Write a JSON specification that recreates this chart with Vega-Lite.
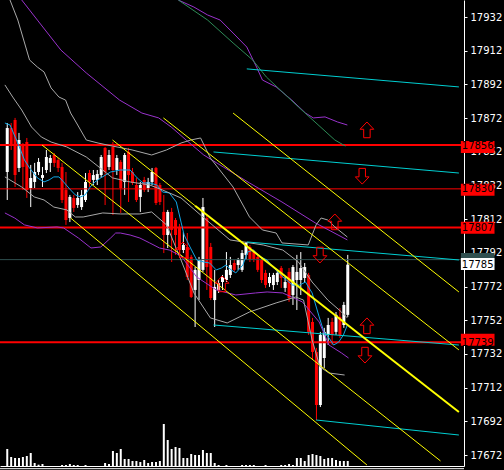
{
  "$schema": "https://vega.github.io/schema/vega-lite/v6.json",
  "width": 464,
  "height": 466,
  "autosize": "none",
  "padding": {"left": 0, "top": 0, "right": 40, "bottom": 4},
  "background": "#000000",
  "config": {"view": {"stroke": null}},
  "datasets": {
    "candles": [
      {"i":0,"o":17840.0,"c":17866.1,"h":17869.1,"l":17823.4},
      {"i":1,"o":17866.1,"c":17856.0,"h":17869.1,"l":17853.1},
      {"i":2,"o":17870.9,"c":17838.2,"h":17872.1,"l":17831.1},
      {"i":3,"o":17842.4,"c":17859.0,"h":17863.2,"l":17840.0},
      {"i":4,"o":17856.0,"c":17843.0,"h":17857.2,"l":17829.3},
      {"i":5,"o":17857.8,"c":17829.3,"h":17860.2,"l":17824.6},
      {"i":6,"o":17830.5,"c":17836.5,"h":17844.2,"l":17819.2},
      {"i":7,"o":17834.1,"c":17840.0,"h":17845.4,"l":17830.5},
      {"i":8,"o":17840.0,"c":17846.0,"h":17848.3,"l":17838.2},
      {"i":9,"o":17836.5,"c":17838.2,"h":17843.0,"l":17831.1},
      {"i":10,"o":17841.2,"c":17848.9,"h":17853.1,"l":17839.4},
      {"i":11,"o":17845.4,"c":17848.3,"h":17850.1,"l":17840.0},
      {"i":12,"o":17850.1,"c":17845.4,"h":17851.3,"l":17843.0},
      {"i":13,"o":17847.1,"c":17842.4,"h":17848.3,"l":17840.0},
      {"i":14,"o":17843.0,"c":17823.4,"h":17845.4,"l":17821.6},
      {"i":15,"o":17829.3,"c":17811.5,"h":17840.0,"l":17808.6},
      {"i":16,"o":17812.7,"c":17825.2,"h":17826.4,"l":17810.3},
      {"i":17,"o":17824.6,"c":17818.7,"h":17826.4,"l":17816.3},
      {"i":18,"o":17820.4,"c":17824.6,"h":17828.1,"l":17818.7},
      {"i":19,"o":17819.2,"c":17826.4,"h":17829.3,"l":17817.5},
      {"i":20,"o":17823.4,"c":17834.1,"h":17839.4,"l":17822.2},
      {"i":21,"o":17839.4,"c":17834.1,"h":17841.2,"l":17831.1},
      {"i":22,"o":17835.3,"c":17838.2,"h":17841.2,"l":17832.3},
      {"i":23,"o":17835.3,"c":17838.8,"h":17841.2,"l":17832.3},
      {"i":24,"o":17838.2,"c":17848.9,"h":17850.1,"l":17836.5},
      {"i":25,"o":17854.3,"c":17840.0,"h":17854.9,"l":17820.4},
      {"i":26,"o":17843.0,"c":17850.1,"h":17853.1,"l":17841.2},
      {"i":27,"o":17854.9,"c":17841.2,"h":17857.8,"l":17814.5},
      {"i":28,"o":17841.2,"c":17848.3,"h":17850.1,"l":17838.2},
      {"i":29,"o":17846.0,"c":17830.5,"h":17847.1,"l":17815.7},
      {"i":30,"o":17834.1,"c":17850.1,"h":17851.3,"l":17826.4},
      {"i":31,"o":17851.9,"c":17838.2,"h":17854.3,"l":17822.2},
      {"i":32,"o":17840.0,"c":17833.5,"h":17842.4,"l":17832.3},
      {"i":33,"o":17832.3,"c":17823.4,"h":17836.5,"l":17822.2},
      {"i":34,"o":17825.2,"c":17832.3,"h":17834.1,"l":17816.3},
      {"i":35,"o":17835.3,"c":17829.3,"h":17837.1,"l":17828.1},
      {"i":36,"o":17830.5,"c":17834.1,"h":17836.5,"l":17828.1},
      {"i":37,"o":17834.1,"c":17840.0,"h":17842.4,"l":17832.3},
      {"i":38,"o":17842.4,"c":17821.6,"h":17843.0,"l":17820.4},
      {"i":39,"o":17832.3,"c":17822.2,"h":17833.5,"l":17820.4},
      {"i":40,"o":17816.3,"c":17802.6,"h":17826.4,"l":17791.9},
      {"i":41,"o":17802.6,"c":17816.3,"h":17817.5,"l":17794.9},
      {"i":42,"o":17816.3,"c":17805.6,"h":17818.7,"l":17786.6},
      {"i":43,"o":17811.5,"c":17802.6,"h":17812.7,"l":17790.8},
      {"i":44,"o":17807.4,"c":17793.7,"h":17809.2,"l":17789.0},
      {"i":45,"o":17793.7,"c":17796.7,"h":17804.4,"l":17791.9},
      {"i":46,"o":17795.5,"c":17777.7,"h":17803.8,"l":17775.9},
      {"i":47,"o":17789.6,"c":17765.8,"h":17790.8,"l":17765.2},
      {"i":48,"o":17770.0,"c":17781.9,"h":17783.6,"l":17748.0},
      {"i":49,"o":17775.9,"c":17787.8,"h":17789.6,"l":17764.0},
      {"i":50,"o":17781.9,"c":17819.2,"h":17824.6,"l":17780.7},
      {"i":51,"o":17812.7,"c":17783.6,"h":17814.5,"l":17770.0},
      {"i":52,"o":17795.5,"c":17765.2,"h":17797.9,"l":17764.0},
      {"i":53,"o":17764.0,"c":17771.8,"h":17781.9,"l":17748.0},
      {"i":54,"o":17770.0,"c":17774.1,"h":17775.9,"l":17768.2},
      {"i":55,"o":17774.7,"c":17777.7,"h":17778.9,"l":17770.0},
      {"i":56,"o":17775.9,"c":17781.9,"h":17792.5,"l":17774.7},
      {"i":57,"o":17778.9,"c":17784.8,"h":17789.6,"l":17777.1},
      {"i":58,"o":17786.0,"c":17781.9,"h":17787.8,"l":17780.7},
      {"i":59,"o":17784.8,"c":17787.8,"h":17789.0,"l":17781.9},
      {"i":60,"o":17781.9,"c":17791.9,"h":17793.7,"l":17780.7},
      {"i":61,"o":17790.8,"c":17797.9,"h":17798.5,"l":17787.8},
      {"i":62,"o":17795.5,"c":17787.8,"h":17796.7,"l":17786.6},
      {"i":63,"o":17792.5,"c":17787.8,"h":17793.7,"l":17786.6},
      {"i":64,"o":17789.6,"c":17781.9,"h":17790.8,"l":17780.7},
      {"i":65,"o":17787.8,"c":17775.9,"h":17789.0,"l":17774.1},
      {"i":66,"o":17780.1,"c":17772.9,"h":17781.9,"l":17771.2},
      {"i":67,"o":17774.1,"c":17777.7,"h":17780.1,"l":17771.8},
      {"i":68,"o":17772.9,"c":17778.9,"h":17780.1,"l":17770.0},
      {"i":69,"o":17774.7,"c":17780.1,"h":17781.9,"l":17772.9},
      {"i":70,"o":17783.0,"c":17777.1,"h":17784.2,"l":17771.2},
      {"i":71,"o":17771.2,"c":17774.7,"h":17777.7,"l":17768.8},
      {"i":72,"o":17780.7,"c":17765.2,"h":17783.0,"l":17762.9},
      {"i":73,"o":17767.0,"c":17783.6,"h":17784.8,"l":17761.1},
      {"i":74,"o":17775.9,"c":17780.7,"h":17790.8,"l":17758.1},
      {"i":75,"o":17775.9,"c":17783.0,"h":17792.5,"l":17767.0},
      {"i":76,"o":17777.1,"c":17783.6,"h":17786.0,"l":17774.7},
      {"i":77,"o":17778.9,"c":17745.1,"h":17780.1,"l":17743.3},
      {"i":78,"o":17751.0,"c":17733.2,"h":17753.4,"l":17728.4},
      {"i":79,"o":17733.2,"c":17701.7,"h":17735.6,"l":17692.8},
      {"i":80,"o":17701.7,"c":17743.3,"h":17745.1,"l":17700.5},
      {"i":81,"o":17729.6,"c":17745.1,"h":17747.5,"l":17723.7},
      {"i":82,"o":17743.3,"c":17749.2,"h":17753.4,"l":17737.3},
      {"i":83,"o":17751.0,"c":17743.3,"h":17753.4,"l":17737.3},
      {"i":84,"o":17745.1,"c":17755.2,"h":17756.9,"l":17743.3},
      {"i":85,"o":17754.0,"c":17743.3,"h":17759.3,"l":17741.5},
      {"i":86,"o":17749.2,"c":17761.1,"h":17762.9,"l":17747.5},
      {"i":87,"o":17755.2,"c":17785.0,"h":17790.8,"l":17754.0}
    ],
    "volume": [
      {"i":0,"v":17},{"i":1,"v":9},{"i":2,"v":8},{"i":3,"v":8},{"i":4,"v":9},{"i":5,"v":10},{"i":6,"v":13},{"i":7,"v":3},{"i":8,"v":1.3},{"i":9,"v":2},
      {"i":14,"v":1},{"i":15,"v":1},{"i":16,"v":2},{"i":17,"v":1},{"i":18,"v":1},{"i":20,"v":1},
      {"i":25,"v":3},{"i":26,"v":2},{"i":27,"v":15},{"i":28,"v":13},{"i":29,"v":17},{"i":30,"v":7},{"i":31,"v":7},{"i":32,"v":5},{"i":33,"v":5},{"i":34,"v":4},{"i":35,"v":6},{"i":36,"v":3},{"i":37,"v":4},{"i":38,"v":4},{"i":39,"v":5},
      {"i":40,"v":42},{"i":41,"v":26},{"i":42,"v":17},{"i":43,"v":19},{"i":44,"v":18},
      {"i":45,"v":8},{"i":46,"v":8},{"i":47,"v":12},{"i":48,"v":11},{"i":49,"v":11},{"i":50,"v":16},{"i":51,"v":13},{"i":52,"v":13},{"i":53,"v":3},{"i":54,"v":1},
      {"i":56,"v":1},{"i":60,"v":1},{"i":61,"v":1},{"i":62,"v":1},{"i":63,"v":1},{"i":66,"v":1},{"i":70,"v":1},{"i":71,"v":1},{"i":72,"v":2},{"i":73,"v":1},
      {"i":74,"v":8},{"i":75,"v":8},{"i":76,"v":5},{"i":77,"v":11},{"i":78,"v":12},{"i":79,"v":11},{"i":80,"v":10},{"i":81,"v":7},{"i":82,"v":8},{"i":83,"v":8},{"i":84,"v":6},{"i":85,"v":5},{"i":86,"v":5},{"i":87,"v":5}
    ],
    "lines": [
      {"s":"ma","k":"ma","t":-0.6,"p":17869.1},{"s":"ma","k":"ma","t":0.7,"p":17867.9},{"s":"ma","k":"ma","t":2.7,"p":17857.2},{"s":"ma","k":"ma","t":4.4,"p":17847.1},{"s":"ma","k":"ma","t":5.7,"p":17842.4},{"s":"ma","k":"ma","t":7.7,"p":17836.5},{"s":"ma","k":"ma","t":9.4,"p":17834.1},{"s":"ma","k":"ma","t":10.7,"p":17835.3},{"s":"ma","k":"ma","t":11.9,"p":17837.1},{"s":"ma","k":"ma","t":13.2,"p":17837.1},{"s":"ma","k":"ma","t":14.4,"p":17834.1},{"s":"ma","k":"ma","t":16.2,"p":17829.3},{"s":"ma","k":"ma","t":17.4,"p":17826.4},{"s":"ma","k":"ma","t":18.7,"p":17825.2},{"s":"ma","k":"ma","t":19.9,"p":17826.4},{"s":"ma","k":"ma","t":21.2,"p":17831.1},{"s":"ma","k":"ma","t":22.4,"p":17834.1},{"s":"ma","k":"ma","t":23.9,"p":17836.5},{"s":"ma","k":"ma","t":26.4,"p":17840.0},{"s":"ma","k":"ma","t":28.9,"p":17841.2},{"s":"ma","k":"ma","t":31.4,"p":17841.2},{"s":"ma","k":"ma","t":33.2,"p":17836.5},{"s":"ma","k":"ma","t":34.7,"p":17833.5},{"s":"ma","k":"ma","t":36.4,"p":17833.5},{"s":"ma","k":"ma","t":38.2,"p":17832.3},{"s":"ma","k":"ma","t":39.7,"p":17828.1},{"s":"ma","k":"ma","t":41.4,"p":17827.6},{"s":"ma","k":"ma","t":43.2,"p":17822.2},{"s":"ma","k":"ma","t":44.4,"p":17810.3},{"s":"ma","k":"ma","t":45.2,"p":17802.6},{"s":"ma","k":"ma","t":46.7,"p":17795.5},{"s":"ma","k":"ma","t":48.4,"p":17787.8},{"s":"ma","k":"ma","t":50.2,"p":17786.6},{"s":"ma","k":"ma","t":51.7,"p":17786.0},{"s":"ma","k":"ma","t":53.4,"p":17781.9},{"s":"ma","k":"ma","t":54.7,"p":17783.0},{"s":"ma","k":"ma","t":55.9,"p":17784.8},{"s":"ma","k":"ma","t":57.2,"p":17781.9},{"s":"ma","k":"ma","t":58.4,"p":17780.1},{"s":"ma","k":"ma","t":60.2,"p":17784.8},{"s":"ma","k":"ma","t":61.4,"p":17792.5},{"s":"ma","k":"ma","t":62.9,"p":17793.7},{"s":"ma","k":"ma","t":64.7,"p":17789.6},{"s":"ma","k":"ma","t":66.4,"p":17787.8},{"s":"ma","k":"ma","t":67.9,"p":17783.6},{"s":"ma","k":"ma","t":70.4,"p":17777.7},{"s":"ma","k":"ma","t":72.9,"p":17772.9},{"s":"ma","k":"ma","t":74.7,"p":17772.9},{"s":"ma","k":"ma","t":76.2,"p":17774.7},{"s":"ma","k":"ma","t":77.9,"p":17768.2},{"s":"ma","k":"ma","t":79.7,"p":17754.0},{"s":"ma","k":"ma","t":80.9,"p":17745.1},{"s":"ma","k":"ma","t":82.2,"p":17741.5},{"s":"ma","k":"ma","t":83.4,"p":17737.3},{"s":"ma","k":"ma","t":84.7,"p":17739.1},{"s":"ma","k":"ma","t":85.9,"p":17743.3},{"s":"ma","k":"ma","t":86.9,"p":17749.2},

      {"s":"p1","k":"purple","t":3.7,"p":17942.1},{"s":"p1","k":"purple","t":7.7,"p":17930.2},{"s":"p1","k":"purple","t":13.7,"p":17912.4},{"s":"p1","k":"purple","t":20.2,"p":17898.8},{"s":"p1","k":"purple","t":28.7,"p":17882.7},{"s":"p1","k":"purple","t":34.4,"p":17875.0},{"s":"p1","k":"purple","t":38.7,"p":17872.1},{"s":"p1","k":"purple","t":41.9,"p":17866.7},{"s":"p1","k":"purple","t":45.7,"p":17859.0},{"s":"p1","k":"purple","t":50.2,"p":17850.1},{"s":"p1","k":"purple","t":55.2,"p":17843.0},{"s":"p1","k":"purple","t":61.9,"p":17833.5},{"s":"p1","k":"purple","t":70.2,"p":17822.2},{"s":"p1","k":"purple","t":78.7,"p":17809.8},{"s":"p1","k":"purple","t":86.9,"p":17799.7},

      {"s":"p2","k":"purple","t":-0.6,"p":17815.7},{"s":"p2","k":"purple","t":1.9,"p":17812.7},{"s":"p2","k":"purple","t":4.4,"p":17808.6},{"s":"p2","k":"purple","t":7.7,"p":17806.8},{"s":"p2","k":"purple","t":12.7,"p":17807.4},{"s":"p2","k":"purple","t":14.4,"p":17806.8},{"s":"p2","k":"purple","t":18.2,"p":17800.8},{"s":"p2","k":"purple","t":21.4,"p":17794.9},{"s":"p2","k":"purple","t":23.9,"p":17795.5},{"s":"p2","k":"purple","t":26.4,"p":17800.8},{"s":"p2","k":"purple","t":27.7,"p":17803.8},{"s":"p2","k":"purple","t":28.9,"p":17803.8},{"s":"p2","k":"purple","t":31.4,"p":17802.6},{"s":"p2","k":"purple","t":33.9,"p":17800.8},{"s":"p2","k":"purple","t":36.4,"p":17797.9},{"s":"p2","k":"purple","t":38.9,"p":17794.9},{"s":"p2","k":"purple","t":41.4,"p":17793.7},{"s":"p2","k":"purple","t":44.4,"p":17790.2},{"s":"p2","k":"purple","t":48.4,"p":17777.7},{"s":"p2","k":"purple","t":53.4,"p":17770.0},{"s":"p2","k":"purple","t":58.4,"p":17767.0},{"s":"p2","k":"purple","t":63.4,"p":17768.2},{"s":"p2","k":"purple","t":66.4,"p":17768.8},{"s":"p2","k":"purple","t":70.4,"p":17768.2},{"s":"p2","k":"purple","t":75.4,"p":17762.9},{"s":"p2","k":"purple","t":79.7,"p":17751.0},{"s":"p2","k":"purple","t":82.2,"p":17737.3},{"s":"p2","k":"purple","t":85.4,"p":17732.6},{"s":"p2","k":"purple","t":87.2,"p":17729.6},

      {"s":"p3","k":"purple","t":43.7,"p":17942.1},{"s":"p3","k":"purple","t":47.7,"p":17937.9},{"s":"p3","k":"purple","t":51.2,"p":17933.2},{"s":"p3","k":"purple","t":54.4,"p":17930.2},{"s":"p3","k":"purple","t":57.7,"p":17922.5},{"s":"p3","k":"purple","t":61.2,"p":17914.2},{"s":"p3","k":"purple","t":63.7,"p":17902.3},{"s":"p3","k":"purple","t":65.2,"p":17894.6},{"s":"p3","k":"purple","t":68.7,"p":17890.5},{"s":"p3","k":"purple","t":72.7,"p":17882.7},{"s":"p3","k":"purple","t":76.2,"p":17875.0},{"s":"p3","k":"purple","t":78.2,"p":17872.1},{"s":"p3","k":"purple","t":81.2,"p":17872.7},{"s":"p3","k":"purple","t":84.4,"p":17869.7},{"s":"p3","k":"purple","t":86.9,"p":17867.9},

      {"s":"gr","k":"green","t":43.7,"p":17942.1},{"s":"gr","k":"green","t":51.2,"p":17930.2},{"s":"gr","k":"green","t":57.7,"p":17916.6},{"s":"gr","k":"green","t":62.7,"p":17906.5},{"s":"gr","k":"green","t":66.2,"p":17896.4},{"s":"gr","k":"green","t":74.4,"p":17878.6},{"s":"gr","k":"green","t":83.7,"p":17859.0},{"s":"gr","k":"green","t":86.4,"p":17855.4},

      {"s":"g1","k":"gray","t":0.7,"p":17942.1},{"s":"g1","k":"gray","t":2.7,"p":17930.2},{"s":"g1","k":"gray","t":5.7,"p":17906.5},{"s":"g1","k":"gray","t":7.7,"p":17902.3},{"s":"g1","k":"gray","t":9.4,"p":17899.4},{"s":"g1","k":"gray","t":11.2,"p":17889.9},{"s":"g1","k":"gray","t":13.2,"p":17884.5},{"s":"g1","k":"gray","t":14.9,"p":17882.7},{"s":"g1","k":"gray","t":16.2,"p":17875.0},{"s":"g1","k":"gray","t":17.7,"p":17869.1},{"s":"g1","k":"gray","t":20.2,"p":17859.0},{"s":"g1","k":"gray","t":23.2,"p":17857.2},{"s":"g1","k":"gray","t":26.9,"p":17855.4},{"s":"g1","k":"gray","t":31.9,"p":17853.1},{"s":"g1","k":"gray","t":36.9,"p":17850.1},{"s":"g1","k":"gray","t":40.7,"p":17853.1},{"s":"g1","k":"gray","t":44.4,"p":17857.2},{"s":"g1","k":"gray","t":46.9,"p":17859.0},{"s":"g1","k":"gray","t":49.4,"p":17860.2},{"s":"g1","k":"gray","t":51.9,"p":17848.3},{"s":"g1","k":"gray","t":57.7,"p":17831.1},{"s":"g1","k":"gray","t":61.9,"p":17813.3},{"s":"g1","k":"gray","t":65.2,"p":17805.6},{"s":"g1","k":"gray","t":68.7,"p":17803.8},{"s":"g1","k":"gray","t":70.2,"p":17797.9},{"s":"g1","k":"gray","t":76.9,"p":17796.7},{"s":"g1","k":"gray","t":78.9,"p":17808.6},{"s":"g1","k":"gray","t":80.2,"p":17812.7},{"s":"g1","k":"gray","t":81.9,"p":17811.5},{"s":"g1","k":"gray","t":83.7,"p":17807.4},{"s":"g1","k":"gray","t":86.9,"p":17801.4},

      {"s":"g2","k":"gray","t":-0.6,"p":17891.7},{"s":"g2","k":"gray","t":1.4,"p":17884.5},{"s":"g2","k":"gray","t":3.7,"p":17876.8},{"s":"g2","k":"gray","t":6.2,"p":17866.7},{"s":"g2","k":"gray","t":8.7,"p":17860.8},{"s":"g2","k":"gray","t":11.2,"p":17857.8},{"s":"g2","k":"gray","t":15.2,"p":17854.9},{"s":"g2","k":"gray","t":20.2,"p":17848.9},{"s":"g2","k":"gray","t":24.4,"p":17841.2},{"s":"g2","k":"gray","t":26.9,"p":17836.5},{"s":"g2","k":"gray","t":31.4,"p":17834.1},{"s":"g2","k":"gray","t":36.4,"p":17832.3},{"s":"g2","k":"gray","t":39.7,"p":17829.3},{"s":"g2","k":"gray","t":44.4,"p":17824.6},{"s":"g2","k":"gray","t":49.4,"p":17814.5},{"s":"g2","k":"gray","t":56.9,"p":17799.7},{"s":"g2","k":"gray","t":65.4,"p":17796.7},{"s":"g2","k":"gray","t":70.4,"p":17793.7},{"s":"g2","k":"gray","t":74.4,"p":17786.6},{"s":"g2","k":"gray","t":77.9,"p":17774.7},{"s":"g2","k":"gray","t":81.9,"p":17764.0},{"s":"g2","k":"gray","t":85.4,"p":17756.9},{"s":"g2","k":"gray","t":86.9,"p":17753.4},

      {"s":"g3","k":"gray","t":-0.6,"p":17837.1},{"s":"g3","k":"gray","t":3.7,"p":17831.1},{"s":"g3","k":"gray","t":6.9,"p":17825.2},{"s":"g3","k":"gray","t":9.4,"p":17823.4},{"s":"g3","k":"gray","t":11.9,"p":17819.2},{"s":"g3","k":"gray","t":15.2,"p":17817.5},{"s":"g3","k":"gray","t":17.4,"p":17813.3},{"s":"g3","k":"gray","t":19.4,"p":17813.3},{"s":"g3","k":"gray","t":24.4,"p":17815.7},{"s":"g3","k":"gray","t":28.9,"p":17815.1},{"s":"g3","k":"gray","t":33.9,"p":17815.1},{"s":"g3","k":"gray","t":36.9,"p":17816.3},{"s":"g3","k":"gray","t":40.7,"p":17808.6},{"s":"g3","k":"gray","t":44.4,"p":17787.8},{"s":"g3","k":"gray","t":47.7,"p":17768.2},{"s":"g3","k":"gray","t":51.9,"p":17753.4},{"s":"g3","k":"gray","t":56.2,"p":17750.4},{"s":"g3","k":"gray","t":61.9,"p":17756.9},{"s":"g3","k":"gray","t":68.7,"p":17762.3},{"s":"g3","k":"gray","t":73.7,"p":17765.8},{"s":"g3","k":"gray","t":75.7,"p":17764.0},{"s":"g3","k":"gray","t":77.9,"p":17740.3},{"s":"g3","k":"gray","t":79.9,"p":17724.3},{"s":"g3","k":"gray","t":82.2,"p":17720.7},{"s":"g3","k":"gray","t":86.2,"p":17719.5},

      {"s":"c1","k":"cyan","t":61.2,"p":17901.2},{"s":"c1","k":"cyan","t":115.4,"p":17890.5},
      {"s":"c2","k":"cyan","t":52.7,"p":17851.9},{"s":"c2","k":"cyan","t":115.4,"p":17839.4},
      {"s":"c3","k":"cyan","t":61.2,"p":17798.5},{"s":"c3","k":"cyan","t":115.4,"p":17787.8},
      {"s":"c4","k":"cyan","t":52.7,"p":17749.2},{"s":"c4","k":"cyan","t":115.4,"p":17737.3},
      {"s":"c5","k":"cyan","t":78.9,"p":17692.8},{"s":"c5","k":"cyan","t":115.4,"p":17683.9},

      {"s":"ya","k":"yellow","t":8.9,"p":17856.0},{"s":"ya","k":"yellow","t":110.7,"p":17668.5},
      {"s":"yb","k":"yellow","t":26.9,"p":17859.0},{"s":"yb","k":"yellow","t":48.0,"p":17820.0},
      {"s":"yc","k":"yellow","t":16.2,"p":17812.7},{"s":"yc","k":"yellow","t":91.9,"p":17666.1},
      {"s":"ye","k":"yellow","t":39.9,"p":17872.1},{"s":"ye","k":"yellow","t":115.4,"p":17734.4},
      {"s":"yf","k":"yellow","t":57.7,"p":17875.0},{"s":"yf","k":"yellow","t":115.4,"p":17768.8}
    ],
    "thick": [
      {"t":48.0,"p":17820.0},{"t":115.4,"p":17697.6}
    ],
    "levels": [
      {"p":17856,"w":"main"},{"p":17830,"w":"thin"},{"p":17807,"w":"main"},{"p":17739,"w":"main"}
    ],
    "arrows": [
      {"t":91.9,"p":17864.9,"dir":"up"},{"t":83.7,"p":17810.3,"dir":"up"},{"t":91.9,"p":17748.6,"dir":"up"},
      {"t":90.7,"p":17837.6,"dir":"down"},{"t":79.9,"p":17790.8,"dir":"down"},{"t":91.4,"p":17731.4,"dir":"down"},
      {"t":54.9,"p":17773.5,"dir":"up"},{"t":44.9,"p":17793.7,"dir":"up"}
    ],
    "boxes": [
      {"p":17856,"label":"17856","kind":"level"},
      {"p":17830,"label":"17830","kind":"level"},
      {"p":17807,"label":"17807","kind":"level"},
      {"p":17739,"label":"17739","kind":"level"},
      {"p":17788,"label":"17788","kind":"line"},
      {"p":17785,"label":"17785","kind":"bid"}
    ]
  },
  "layer": [
    {
      "data": {"name": "volume"},
      "mark": {"type": "bar", "size": 2, "color": "#FFFFFF"},
      "encoding": {
        "x": {"field": "i", "type": "quantitative", "scale": {"domain": [-0.575, 115.425], "nice": false, "zero": false}, "axis": {"title": null, "labels": false, "ticks": false, "grid": false, "domainColor": "#FFFFFF", "domainWidth": 1}},
        "y": {"field": "v", "type": "quantitative", "scale": {"domain": [0, 466], "nice": false}, "axis": null}
      }
    },
    {
      "data": {"values": [{"v": -2.7}]},
      "mark": {"type": "rule", "color": "#FFFFFF", "strokeWidth": 1},
      "encoding": {
        "y": {"field": "v", "type": "quantitative", "scale": {"domain": [0, 466], "nice": false, "zero": false}, "axis": null}
      }
    },
    {
      "data": {"name": "candles"},
      "mark": {"type": "rule", "strokeWidth": 1},
      "encoding": {
        "x": {"field": "i", "type": "quantitative"},
        "y": {"field": "l", "type": "quantitative", "scale": {"domain": [17665.5, 17942.1], "nice": false, "zero": false},
          "axis": {"orient": "right", "title": null, "grid": false, "zindex": 0, "values": [17672,17692,17712,17732,17752,17772,17792,17812,17832,17852,17872,17892,17912,17932],
            "format": "d", "labelColor": "#FFFFFF", "tickColor": "#FFFFFF", "domainColor": "#FFFFFF", "tickSize": 3, "labelPadding": 3, "labelFont": "DejaVu Sans", "labelFontSize": 10}},
        "y2": {"field": "h"},
        "color": {"condition": {"test": "datum.c >= datum.o", "value": "#FFFFFF"}, "value": "#FF0000"}
      }
    },
    {
      "data": {"name": "candles"},
      "mark": {"type": "bar", "size": 3},
      "encoding": {
        "x": {"field": "i", "type": "quantitative"},
        "y": {"field": "o", "type": "quantitative", "scale": {"domain": [17665.5, 17942.1], "nice": false, "zero": false}, "axis": null},
        "y2": {"field": "c"},
        "color": {"condition": {"test": "datum.c >= datum.o", "value": "#FFFFFF"}, "value": "#FF0000"}
      }
    },
    {
      "data": {"name": "levels"},
      "mark": {"type": "rule", "color": "#FF0000"},
      "encoding": {
        "y": {"field": "p", "type": "quantitative", "scale": {"domain": [17665.5, 17942.1], "nice": false, "zero": false}, "axis": null},
        "strokeWidth": {"condition": {"test": "datum.w == 'thin'", "value": 1}, "value": 2}
      }
    },
    {
      "data": {"values": [{"p": 17788}]},
      "mark": {"type": "rule", "color": "#2F4F4F", "strokeWidth": 1},
      "encoding": {
        "y": {"field": "p", "type": "quantitative", "scale": {"domain": [17665.5, 17942.1], "nice": false, "zero": false}, "axis": null}
      }
    },
    {
      "data": {"name": "lines"},
      "mark": {"type": "line", "strokeWidth": 1},
      "encoding": {
        "x": {"field": "t", "type": "quantitative"},
        "y": {"field": "p", "type": "quantitative", "scale": {"domain": [17665.5, 17942.1], "nice": false, "zero": false}, "axis": null},
        "detail": {"field": "s", "type": "nominal"},
        "order": {"field": "t", "type": "quantitative"},
        "color": {"field": "k", "type": "nominal", "legend": null,
          "scale": {"domain": ["ma", "purple", "green", "gray", "cyan", "yellow"], "range": ["#10A8E8", "#9932CC", "#2E8B57", "#A9A9A9", "#00CED1", "#FFFF00"]}}
      }
    },
    {
      "data": {"name": "thick"},
      "mark": {"type": "line", "strokeWidth": 2, "color": "#FFFF00"},
      "encoding": {
        "x": {"field": "t", "type": "quantitative"},
        "y": {"field": "p", "type": "quantitative", "scale": {"domain": [17665.5, 17942.1], "nice": false, "zero": false}, "axis": null}
      }
    },
    {
      "data": {"name": "arrows"},
      "mark": {"type": "point", "filled": false, "stroke": "#FF0000", "strokeWidth": 1, "size": 260, "opacity": 1},
      "encoding": {
        "x": {"field": "t", "type": "quantitative"},
        "y": {"field": "p", "type": "quantitative", "scale": {"domain": [17665.5, 17942.1], "nice": false, "zero": false}, "axis": null},
        "shape": {"field": "dir", "type": "nominal", "legend": null,
          "scale": {"domain": ["up", "down"], "range": ["M0,-1L0.85,-0.1L0.4,-0.1L0.4,0.95L-0.4,0.95L-0.4,-0.1L-0.85,-0.1Z", "M0,1L0.85,0.1L0.4,0.1L0.4,-0.95L-0.4,-0.95L-0.4,0.1L-0.85,0.1Z"]}}
      }
    },
    {
      "data": {"name": "boxes"},
      "mark": {"type": "bar", "size": 12, "orient": "horizontal"},
      "encoding": {
        "x": {"datum": 115.9, "type": "quantitative"},
        "x2": {"datum": 124.5},
        "y": {"field": "p", "type": "quantitative", "scale": {"domain": [17665.5, 17942.1], "nice": false, "zero": false}, "axis": null},
        "color": {"field": "kind", "type": "nominal", "legend": null,
          "scale": {"domain": ["level", "line", "bid"], "range": ["#FF0000", "#2F4F4F", "#FFFFFF"]}}
      }
    },
    {
      "data": {"name": "boxes"},
      "transform": [{"filter": "datum.kind != 'line'"}],
      "mark": {"type": "text", "font": "DejaVu Sans", "fontSize": 10, "color": "#000000", "align": "center", "baseline": "middle", "dy": 0.5},
      "encoding": {
        "x": {"datum": 120.2, "type": "quantitative"},
        "y": {"field": "p", "type": "quantitative", "scale": {"domain": [17665.5, 17942.1], "nice": false, "zero": false}, "axis": null},
        "text": {"field": "label", "type": "nominal"}
      }
    }
  ],
  "resolve": {"scale": {"y": "independent", "color": "independent", "shape": "independent"}}
}
